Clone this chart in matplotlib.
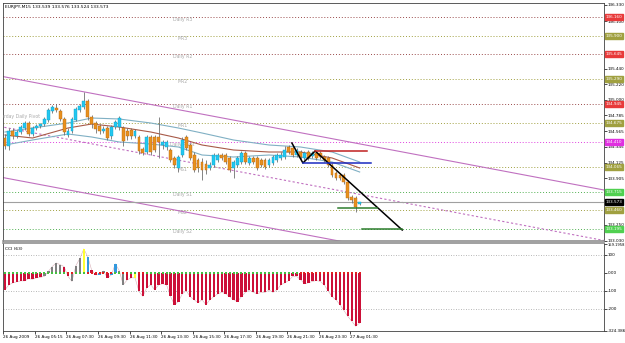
import matplotlib
matplotlib.use("Agg")
import matplotlib.pyplot as plt
import matplotlib.transforms as mtransforms
import numpy as np

# ---------------- data ----------------
title = "EURJPY,M15 133.539 133.576 133.524 133.573"

opens = [134.468, 134.356, 134.566, 134.496, 134.552, 134.608, 134.678, 134.524, 134.608, 134.636,
         134.664, 134.720, 134.846, 134.888, 134.846, 134.734, 134.510, 134.566, 134.720, 134.860,
         134.902, 134.986, 134.762, 134.678, 134.636, 134.566, 134.608, 134.496, 134.622, 134.622,
         134.608, 134.566, 134.580, 134.496, 134.482, 134.314, 134.272, 134.482, 134.482, 134.482,
         134.370, 134.342, 134.300, 134.188, 134.048, 134.230, 134.482, 134.370, 134.230, 134.160,
         134.132, 134.104, 134.048, 134.090, 134.160, 134.230, 134.230, 134.188, 134.048, 134.090,
         134.132, 134.258, 134.118, 134.188, 134.188, 134.160, 134.160, 134.090, 134.118, 134.160,
         134.188, 134.202, 134.342, 134.328, 134.230, 134.272, 134.188, 134.272, 134.216, 134.258,
         134.258, 134.202, 134.188, 134.090, 133.978, 133.950, 133.950, 133.852, 133.642, 133.628,
         133.539]
highs = [134.524, 134.608, 134.608, 134.580, 134.650, 134.706, 134.706, 134.636, 134.664, 134.678,
         134.762, 134.888, 134.930, 134.944, 134.874, 134.762, 134.608, 134.762, 134.902, 134.944,
         135.112, 135.014, 134.790, 134.706, 134.664, 134.636, 134.636, 134.650, 134.720, 134.776,
         134.636, 134.608, 134.608, 134.594, 134.510, 134.342, 134.510, 134.510, 134.510, 134.762,
         134.440, 134.440, 134.328, 134.216, 134.230, 134.482, 134.510, 134.398, 134.272, 134.188,
         134.188, 134.160, 134.132, 134.258, 134.258, 134.258, 134.258, 134.216, 134.160, 134.216,
         134.286, 134.286, 134.216, 134.216, 134.216, 134.188, 134.188, 134.188, 134.230, 134.258,
         134.272, 134.356, 134.370, 134.356, 134.328, 134.300, 134.286, 134.300, 134.286, 134.286,
         134.286, 134.230, 134.216, 134.118, 134.006, 133.978, 133.978, 133.880, 133.670, 133.656,
         133.576]
lows = [134.314, 134.300, 134.454, 134.468, 134.524, 134.580, 134.496, 134.496, 134.580, 134.608,
        134.636, 134.692, 134.818, 134.832, 134.706, 134.510, 134.482, 134.538, 134.706, 134.832,
        134.874, 134.720, 134.608, 134.538, 134.524, 134.538, 134.440, 134.454, 134.594, 134.580,
        134.356, 134.440, 134.454, 134.468, 134.244, 134.230, 134.244, 134.230, 134.272, 134.188,
        134.314, 134.300, 134.132, 134.048, 133.992, 134.202, 134.300, 134.160, 133.992, 133.992,
        133.880, 133.964, 134.020, 134.062, 134.132, 134.160, 134.104, 133.992, 133.908, 134.062,
        134.104, 134.104, 134.090, 134.104, 134.020, 134.062, 134.034, 134.062, 134.090, 134.132,
        134.160, 134.174, 134.244, 134.202, 134.202, 134.174, 134.160, 134.160, 134.188, 134.160,
        134.174, 134.132, 134.062, 133.922, 133.880, 133.880, 133.824, 133.600, 133.558, 133.432,
        133.524]
closes = [134.356, 134.566, 134.496, 134.552, 134.622, 134.678, 134.524, 134.608, 134.636, 134.664,
          134.734, 134.860, 134.902, 134.860, 134.734, 134.552, 134.566, 134.734, 134.874, 134.916,
          134.986, 134.762, 134.664, 134.594, 134.566, 134.594, 134.468, 134.622, 134.692, 134.748,
          134.426, 134.496, 134.496, 134.566, 134.286, 134.258, 134.482, 134.272, 134.300, 134.412,
          134.412, 134.412, 134.160, 134.090, 134.202, 134.440, 134.328, 134.188, 134.020, 134.048,
          134.020, 134.020, 134.090, 134.230, 134.230, 134.188, 134.132, 134.020, 134.132, 134.188,
          134.258, 134.132, 134.188, 134.132, 134.048, 134.090, 134.062, 134.160, 134.202, 134.230,
          134.230, 134.300, 134.272, 134.230, 134.300, 134.202, 134.258, 134.188, 134.258, 134.188,
          134.202, 134.160, 134.090, 133.950, 133.908, 133.908, 133.852, 133.628, 133.600, 133.502,
          133.573]

# moving averages sampled at bar indices
ma_idx = [0, 7, 16, 22, 29, 37, 44, 50, 58, 67, 75, 83, 90]
ma_upper = [134.552, 134.608, 134.678, 134.748, 134.734, 134.678, 134.608, 134.538, 134.440,
            134.370, 134.342, 134.272, 134.132]
ma_mid = [134.510, 134.468, 134.608, 134.664, 134.622, 134.552, 134.468, 134.370, 134.300,
          134.272, 134.272, 134.188, 134.048]
ma_lower = [134.370, 134.440, 134.524, 134.482, 134.412, 134.384, 134.342, 134.230, 134.202,
            134.230, 134.202, 134.132, 133.992]

# pivot levels
level_names = ["Daily R3", "MR3", "Daily R2", "MR2", "Daily R1", "MR1", "Daily Pivot",
               "MS1", "Daily S1", "MS2", "Daily S2"]
level_values = [136.160, 135.900, 135.645, 135.290, 134.945, 134.675, 134.410,
                134.065, 133.715, 133.460, 133.195]
level_kinds = ["R", "M", "R", "M", "R", "M", "P", "M", "S", "M", "S"]
current_price = 133.573

# channel (two anchor points each: bar index, price)
chan_upper = [(-1.27, 135.336), (152.0, 133.740)]
chan_lower = [(-1.27, 133.922), (152.0, 132.326)]
chan_mid = [(-1.27, 134.629), (152.0, 133.033)]

# drawn objects
zigzag_x = [72.8, 75.6, 78.7, 100.8]
zigzag_y = [134.398, 134.118, 134.286, 133.180]
red_line = [(78.7, 91.9), 134.290]
blue_line = [(75.6, 92.9), 134.122]
green_line1 = [(84.5, 94.4), 133.492]
green_line2 = [(90.6, 100.8), 133.201]

# visible price-scale labels (the ones under the level boxes are hidden in the original)
price_ticks = [136.330, 136.100, 135.440, 135.220, 135.000, 134.785,
               134.565, 134.345, 134.125, 133.905, 133.685, 133.250, 133.030]

# CCI(63)
cci = [-95, -67, -56, -50, -45, -45, -33, -36, -28, -25,
       -20, 8, 35, 55, 45, 35, -20, -48, 40, 80,
       133, 90, 15, -12, -10, 10, -28, -12, 50, 12,
       -67, -40, -28, -28, -104, -131, -83, -67, -95, -67,
       -61, -67, -131, -178, -161, -117, -100, -133, -150, -167,
       -150, -178, -150, -133, -117, -109, -117, -133, -150, -161,
       -133, -109, -96, -109, -117, -109, -109, -96, -109, -96,
       -67, -56, -43, -20, -20, -38, -61, -56, -48, -43,
       -48, -67, -100, -133, -150, -178, -210, -243, -270, -298,
       -280]
# bar colour code: r=red, g=gray, y=yellow, b=blue
cci_col = list("rrrrrrrrrrg" "gggg" "rr" "ggg" "y" "b" "rr" "b" "g" "r" "bb" "gg" "rr" "y") + ["r"] * 56
# zero line markers: 1 = green, 0 = red
zero_flags = ([1] * 16 + [0] * 2 + [1] * 3 + [0] * 7 + [1] * 2 + [0] * 2 + [1] * 2 + [0] * 2
              + [1] * 39 + [0] * 16)
cci_ticks = [159.1958, 100, 0, -100, -200, -324.386]
cci_tick_labels = ["159.1958", "100", "0.00", "-100", "-200", "-324.386"]

time_idx = [0, 8, 16, 24, 32, 40, 48, 56, 64, 72, 80, 88]
time_labels = ["26 Aug 2009", "26 Aug 05:15", "26 Aug 07:30", "26 Aug 09:30", "26 Aug 11:30",
               "26 Aug 13:30", "26 Aug 15:30", "26 Aug 17:30", "26 Aug 19:30", "26 Aug 21:30",
               "26 Aug 23:30", "27 Aug 01:30"]

# ---------------- figure ----------------
plt.rcParams['font.family'] = ['DejaVu Sans']
W, H = 625, 343
fig = plt.figure(figsize=(W / 100, H / 100), dpi=100)
fig.patch.set_facecolor("white")

ax = fig.add_axes([3 / W, (H - 241) / H, 601 / W, 238 / H])
ax2 = fig.add_axes([3 / W, (H - 331) / H, 601 / W, 88 / H], sharex=ax)

XMIN, XMAX = -0.5, 152.0
ax.set_xlim(XMIN, XMAX)
ax.set_ylim(133.026, 136.358)

FS = 3.0
kind_line = {"R": "#9a4a4a", "M": "#a0a040", "P": "#e040e0", "S": "#50b050"}
kind_box = {"R": "#e83a3a", "M": "#a0a040", "P": "#e030e0", "S": "#50d050"}

# level lines
for v, k, nm in zip(level_values, level_kinds, level_names):
    ax.axhline(v, color=kind_line[k], lw=0.7, ls=(0, (1, 2)), zorder=1)
    ax.text(45, v, nm, fontsize=FS + 0.3, color="#aaaaaa", ha="center", va="top", zorder=2)
ax.text(9.0, 134.775, "Yesterday Daily Pivot", fontsize=FS + 0.3, color="#aaaaaa",
        ha="right", va="center", clip_on=True)

# channel
for pts, ls in ((chan_upper, "-"), (chan_lower, "-"), (chan_mid, (0, (2, 2)))):
    ax.plot([pts[0][0], pts[1][0]], [pts[0][1], pts[1][1]], color="#c070c0", lw=0.8, ls=ls, zorder=2)

# current price
ax.axhline(current_price, color="#a0a0a0", lw=0.8, zorder=2)

# moving averages
ax.plot(ma_idx, ma_upper, color="#80b0c4", lw=0.8, zorder=3)
ax.plot(ma_idx, ma_lower, color="#80b0c4", lw=0.8, zorder=3)
ax.plot(ma_idx, ma_mid, color="#a85a48", lw=0.8, zorder=3)

# candles
idx = np.arange(len(closes))
o = np.array(opens); h = np.array(highs); l = np.array(lows); c = np.array(closes)
up = c >= o
ax.vlines(idx, l, h, color="#707070", lw=0.6, zorder=4)
ax.bar(idx[up], (c - o)[up], bottom=o[up], width=0.72, color="#22c8f0",
       edgecolor="#10a0c8", lw=0.3, zorder=5)
ax.bar(idx[~up], (o - c)[~up], bottom=c[~up], width=0.72, color="#e8901e",
       edgecolor="#b86a10", lw=0.3, zorder=5)

# drawn objects
ax.plot(zigzag_x, zigzag_y, color="black", lw=1.1, zorder=6)
ax.plot(red_line[0], [red_line[1]] * 2, color="#c02020", lw=1.1, zorder=6)
ax.plot(blue_line[0], [blue_line[1]] * 2, color="#1a2ac0", lw=1.1, zorder=6)
ax.plot(green_line1[0], [green_line1[1]] * 2, color="#2e7d2e", lw=1.1, zorder=6)
ax.plot(green_line2[0], [green_line2[1]] * 2, color="#2e7d2e", lw=1.1, zorder=6)

# right price axis
ax.yaxis.tick_right()
ax.set_yticks(price_ticks)
ax.set_yticklabels([f"{t:.3f}" for t in price_ticks])
ax.tick_params(axis="y", labelsize=FS, length=2, width=0.5, pad=0.8, colors="black")
ax.tick_params(axis="x", length=0, labelbottom=False)
trans = mtransforms.blended_transform_factory(ax.transAxes, ax.transData)
for v, k in zip(level_values, level_kinds):
    ax.text(1.0025, v, f"{v:.3f}", transform=trans, fontsize=FS, color="white",
            ha="left", va="center", clip_on=False, zorder=10,
            bbox=dict(facecolor=kind_box[k], edgecolor=kind_box[k], pad=0.6))
ax.text(1.0025, current_price, f"{current_price:.3f}", transform=trans, fontsize=FS,
        color="white", ha="left", va="center", clip_on=False, zorder=10,
        bbox=dict(facecolor="black", edgecolor="black", pad=0.6))

ax.text(0.004, 0.99, title, transform=ax.transAxes, fontsize=FS + 0.2, color="black",
        ha="left", va="top")

for sp in ax.spines.values():
    sp.set_linewidth(0.6)
    sp.set_color("#404040")
ax.spines["bottom"].set_color("#909090")
ax.spines["bottom"].set_linewidth(1.2)

# ---------------- CCI ----------------
ax2.set_ylim(-324.4, 166.0)
for lv in (100, -100, -200):
    ax2.axhline(lv, color="#a0a0a0", lw=0.6, ls=(0, (1, 2)), zorder=1)
cmap = {"r": "#cc1038", "g": "#808080", "y": "#ffff33", "b": "#3399dd"}
cidx = np.arange(len(cci))
ax2.bar(cidx, cci, width=0.6, color=[cmap[k] for k in cci_col], zorder=3)
ax2.plot(cidx, cci, color="#d8b0b8", lw=0.4, zorder=2)
zf = np.array(zero_flags)
ax2.plot(cidx[zf == 1], np.zeros((zf == 1).sum()), ls="none", marker="s", ms=1.7,
         color="#44c040", mew=0, zorder=4)
ax2.plot(cidx[zf == 0], np.zeros((zf == 0).sum()), ls="none", marker="s", ms=1.7,
         color="#e02020", mew=0, zorder=4)
ax2.text(0.004, 0.96, "CCI (63)", transform=ax2.transAxes, fontsize=FS + 0.2, color="black",
         ha="left", va="top")

ax2.yaxis.tick_right()
ax2.set_yticks(cci_ticks)
ax2.set_yticklabels(cci_tick_labels)
ax2.tick_params(axis="y", labelsize=FS, length=2, width=0.5, pad=0.8)
ax2.get_yticklabels()[0].set_fontsize(2.6)
ax2.set_xticks([t - 0.4 for t in time_idx])
ax2.set_xticklabels(time_labels)
ax2.tick_params(axis="x", labelsize=FS, length=2, width=0.5, pad=1)
for lab in ax2.get_xticklabels():
    lab.set_horizontalalignment("left")
for sp in ax2.spines.values():
    sp.set_linewidth(0.6)
    sp.set_color("#404040")
ax2.spines["top"].set_color("#909090")
ax2.spines["top"].set_linewidth(1.2)

fig.savefig("out.png", dpi=100, facecolor="white")
